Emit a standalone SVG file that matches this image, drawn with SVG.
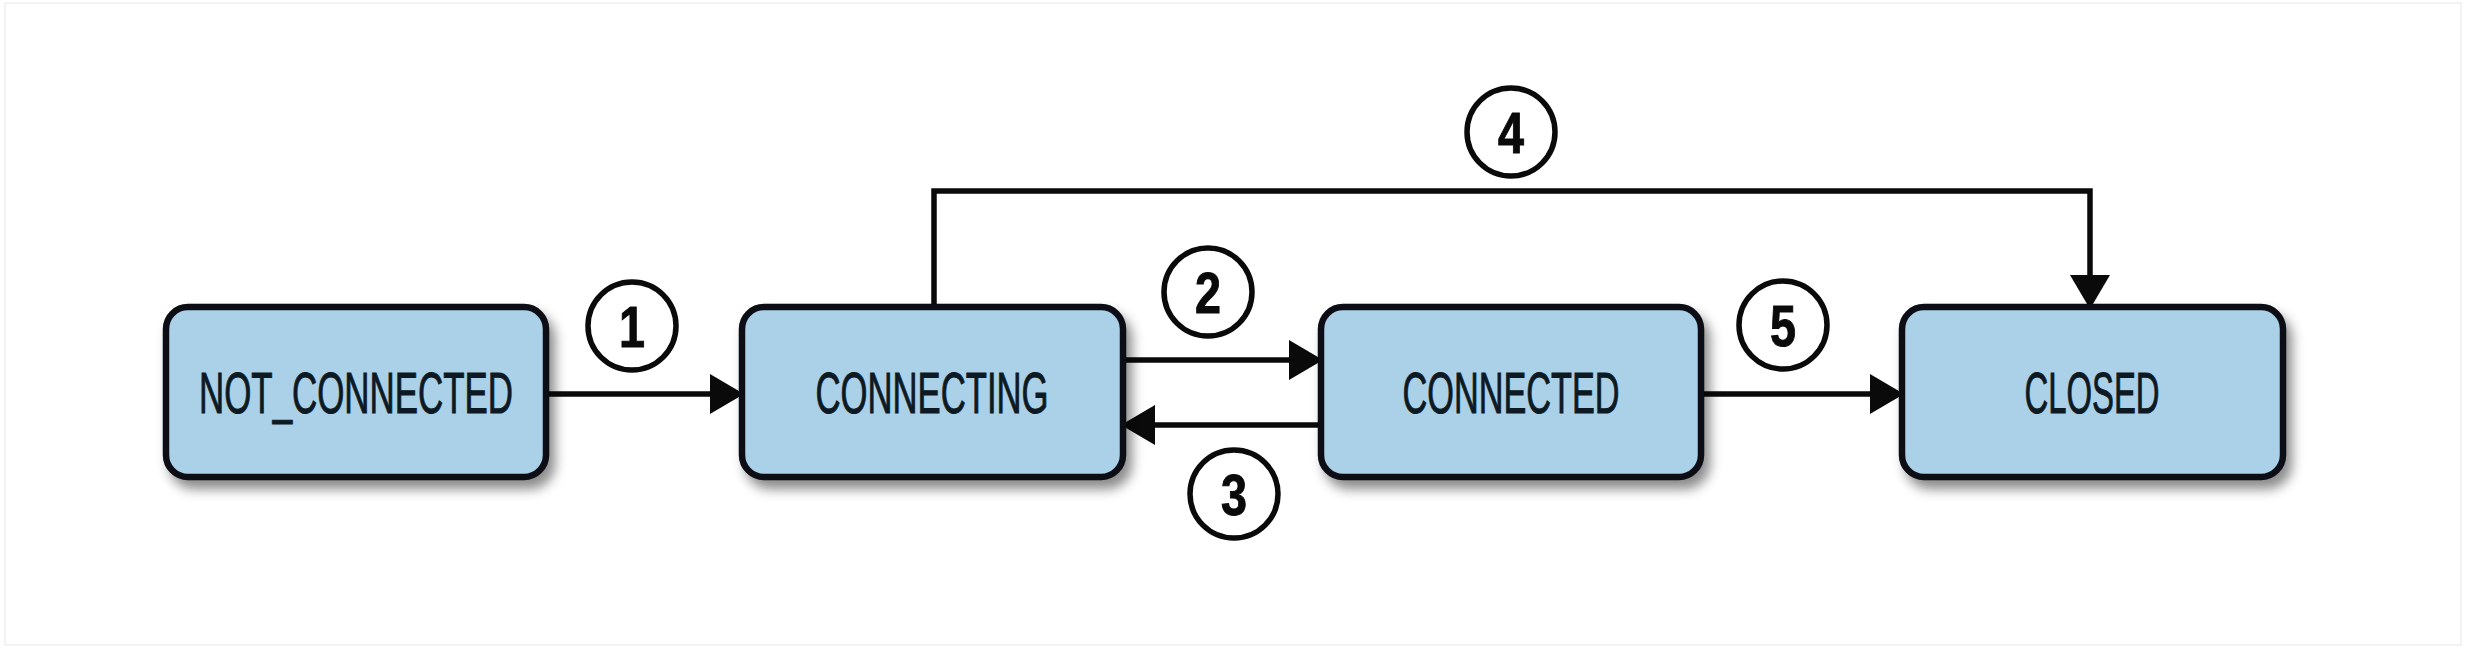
<svg xmlns="http://www.w3.org/2000/svg" width="2466" height="648" viewBox="0 0 2466 648">
<defs>
<filter id="shadow" x="-10%" y="-20%" width="130%" height="150%">
<feDropShadow dx="6" dy="9" stdDeviation="6" flood-color="#000" flood-opacity="0.45"/>
</filter>
<marker id="arrow" viewBox="0 0 34 40" refX="16" refY="20" markerWidth="34" markerHeight="40" markerUnits="userSpaceOnUse" orient="auto">
<path d="M0,0 L34,20 L0,40 Z" fill="#0a0a0a"/>
</marker>
</defs>
<style>
.box{fill:#abd1e9;stroke:#0a0f14;stroke-width:6.5;filter:url(#shadow)}
.lbl{font-family:"Liberation Sans Narrow","Liberation Sans",Arial,sans-serif;font-size:58px;fill:#0d1a24;stroke:#0d1a24;stroke-width:1;text-anchor:middle}
.conn{fill:none;stroke:#0a0a0a;stroke-width:5.5}
.badge circle{fill:#fff;stroke:#0a0a0a;stroke-width:5.5}
.badge text{font-family:"Liberation Sans Narrow","Liberation Sans",Arial,sans-serif;font-size:58px;font-weight:bold;fill:#0a0a0a;stroke:#0a0a0a;stroke-width:1;text-anchor:middle}
</style>
<rect x="0" y="0" width="2466" height="648" fill="#ffffff"/>
<rect x="5" y="3" width="2456" height="642" fill="none" stroke="#f3f3f3" stroke-width="2"/>

<g id="connectors">
<path class="conn" d="M545,394 H726" marker-end="url(#arrow)"/>
<path class="conn" d="M1123,360 H1305" marker-end="url(#arrow)"/>
<path class="conn" d="M1321,425 H1139" marker-end="url(#arrow)"/>
<path class="conn" d="M1701,394 H1886" marker-end="url(#arrow)"/>
<path class="conn" d="M934,307 V191 H2090 V291" marker-end="url(#arrow)"/>
</g>

<g id="node-not-connected">
<rect class="box" x="166" y="307" width="380" height="170" rx="22"/>
<text class="lbl" x="356" y="413" textLength="314" lengthAdjust="spacingAndGlyphs">NOT_CONNECTED</text>
</g>
<g id="node-connecting">
<rect class="box" x="742" y="307" width="381" height="170" rx="22"/>
<text class="lbl" x="932" y="413" textLength="233" lengthAdjust="spacingAndGlyphs">CONNECTING</text>
</g>
<g id="node-connected">
<rect class="box" x="1321" y="307" width="380" height="170" rx="22"/>
<text class="lbl" x="1511" y="413" textLength="217" lengthAdjust="spacingAndGlyphs">CONNECTED</text>
</g>
<g id="node-closed">
<rect class="box" x="1902" y="307" width="381" height="170" rx="22"/>
<text class="lbl" x="2092" y="413" textLength="135" lengthAdjust="spacingAndGlyphs">CLOSED</text>
</g>

<g id="label-1" class="badge">
<circle cx="632" cy="326" r="44"/>
<text x="632" y="347" textLength="26" lengthAdjust="spacingAndGlyphs">1</text>
</g>
<g id="label-2" class="badge">
<circle cx="1208" cy="292" r="44"/>
<text x="1208" y="313" textLength="26" lengthAdjust="spacingAndGlyphs">2</text>
</g>
<g id="label-3" class="badge">
<circle cx="1234" cy="494" r="44"/>
<text x="1234" y="515" textLength="26" lengthAdjust="spacingAndGlyphs">3</text>
</g>
<g id="label-4" class="badge">
<circle cx="1511" cy="132" r="44"/>
<text x="1511" y="153" textLength="26" lengthAdjust="spacingAndGlyphs">4</text>
</g>
<g id="label-5" class="badge">
<circle cx="1783" cy="325" r="44"/>
<text x="1783" y="346" textLength="26" lengthAdjust="spacingAndGlyphs">5</text>
</g>
</svg>
